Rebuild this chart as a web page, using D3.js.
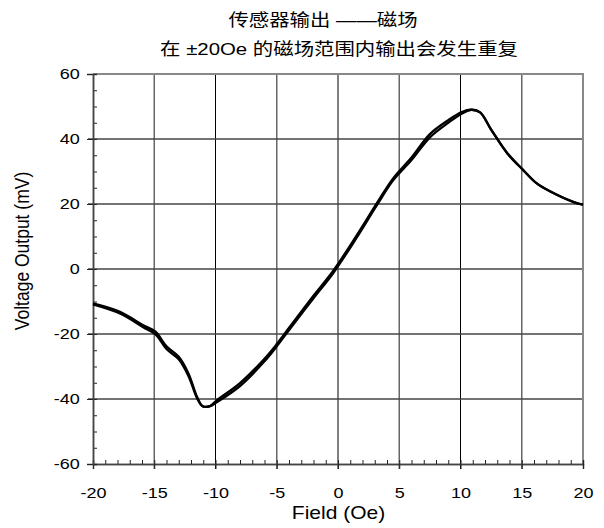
<!DOCTYPE html>
<html>
<head>
<meta charset="utf-8">
<script src="https://cdn.jsdelivr.net/npm/d3@7"></script>
<style>
  body { margin: 0; background: #fff; }
  svg text { font-family: "Liberation Sans", Arial, sans-serif; fill: #000; }
  .title { font-family: "Liberation Sans", "Noto Sans CJK SC", sans-serif; font-size: 17px; }
</style>
</head>
<body>
<svg width="604" height="528"></svg>
<script>
// sweep from -20 Oe up to +20 Oe
var fieldUp = [-20, -17.8, -15.9, -14.9, -14, -13, -12.2, -11.5, -11.05, -10.45, -9.9, -8, -6, -5, -3.9, -2, -0.4, 1.5, 3.2, 4.5, 6, 7.5, 9, 10.1, 10.9, 11.6, 12.5, 13.8, 15.1, 16.2, 17.3, 19.3, 20];
var voltUp  = [-10.6, -13.2, -17.3, -19.3, -23.8, -27, -32.2, -39.4, -42.2, -42.2, -41, -36, -28.4, -23.8, -18.3, -9, -1.3, 9.5, 19.8, 27.3, 33.5, 40.5, 45, 47.8, 49, 48.2, 42.9, 35.7, 30.5, 26.4, 23.9, 20.5, 19.8];
// sweep back from +20 Oe down to -20 Oe
var fieldDown = [20, 19.3, 17.3, 16.2, 15.1, 13.8, 12.5, 11.6, 10.9, 10.1, 9, 7.5, 6, 4.5, 3.2, 1.5, -0.4, -2, -3.9, -5, -6, -8, -9.9, -10.45, -11.05, -11.5, -12.2, -13, -14, -14.9, -15.9, -17.8, -20];
var voltDown  = [19.8, 20.5, 23.9, 26.4, 30.5, 35.7, 42.9, 48.2, 49, 48.3, 45.8, 41.5, 34.3, 27.9, 20.4, 10.2, -0.6, -8.2, -17.6, -23.1, -27.6, -35.1, -40.4, -42.2, -42.2, -39.8, -33, -27.8, -24.6, -20.1, -17.9, -13.7, -10.9];

var xTicks = [-20, -15, -10, -5, 0, 5, 10, 15, 20];
var yTicks = [-60, -40, -20, 0, 20, 40, 60];

var titleLines = ["传感器输出 ——磁场", "在 ±20Oe 的磁场范围内输出会发生重复"];
var xLabel = "Field (Oe)";
var yLabel = "Voltage Output (mV)";

var svg = d3.select("svg");
var pLeft = 93, pRight = 583, pTop = 74, pBottom = 464;
var stretch = "scale(1.2,1)"; // the original text is a bit wide

var x = d3.scaleLinear().domain([-20, 20]).range([pLeft, pRight]);
var y = d3.scaleLinear().domain([-60, 60]).range([pBottom, pTop]);
var fmt = d => String(d);

// grid
svg.append("g").selectAll("line").data(xTicks.slice(1, -1)).join("line")
  .attr("x1", d => x(d)).attr("x2", d => x(d))
  .attr("y1", pTop).attr("y2", pBottom + 5)
  .attr("stroke", d => (d % 10 === 0) ? "#000" : "#666")
  .attr("stroke-width", d => (d % 10 === 0) ? 1 : 1.5);

svg.append("g").selectAll("line").data(yTicks.slice(1, -1)).join("line")
  .attr("x1", pLeft - 5).attr("x2", pRight)
  .attr("y1", d => y(d)).attr("y2", d => y(d))
  .attr("stroke", "#444").attr("stroke-width", 1.3);

// frame top & right
svg.append("path")
  .attr("d", "M" + pLeft + "," + pTop + "H" + pRight + "V" + pBottom)
  .attr("fill", "none").attr("stroke", "#888").attr("stroke-width", 2);

// bottom axis
var xAxis = svg.append("g").attr("transform", "translate(0," + pBottom + ")");
xAxis.append("g").call(d3.axisBottom(x).tickValues(d3.range(-20, 21, 1)).tickSize(-4).tickFormat(""));
xAxis.append("g").call(d3.axisBottom(x).tickValues(xTicks).tickSize(5).tickPadding(18).tickFormat(fmt));
xAxis.selectAll(".domain").attr("stroke", "#444").attr("stroke-width", 1.5);
xAxis.selectAll("line").attr("stroke", "#222");
xAxis.selectAll("text").style("font-size", "15px").attr("transform", stretch);

// left axis
var yAxis = svg.append("g").attr("transform", "translate(" + pLeft + ",0)");
yAxis.append("g").call(d3.axisLeft(y).tickValues(d3.range(-60, 61, 5)).tickSize(-4).tickFormat(""));
yAxis.append("g").call(d3.axisLeft(y).tickValues(yTicks).tickSize(6).tickFormat(fmt));
yAxis.selectAll(".domain").attr("stroke", "#444").attr("stroke-width", 1.5);
yAxis.selectAll("line").attr("stroke", "#222");
yAxis.selectAll("text").style("font-size", "15px").attr("x", -11).attr("transform", stretch);

// curves
var line = d3.line().x(d => x(d[0])).y(d => y(d[1])).curve(d3.curveCatmullRom);
svg.append("path").datum(d3.zip(fieldUp, voltUp))
  .attr("d", line).attr("fill", "none").attr("stroke", "#000").attr("stroke-width", 2.3);
svg.append("path").datum(d3.zip(fieldDown, voltDown))
  .attr("d", line).attr("fill", "none").attr("stroke", "#000").attr("stroke-width", 2.3);

// titles
var titlePos = [[323, 25.5], [339, 55]];
svg.selectAll(".title").data(titleLines).join("text")
  .attr("class", "title")
  .attr("transform", (d, i) => "translate(" + titlePos[i] + ") " + stretch)
  .attr("text-anchor", "middle")
  .text(d => d);

svg.append("text").attr("transform", "translate(338.5,519) " + stretch)
  .attr("text-anchor", "middle").style("font-size", "17.5px").text(xLabel);

svg.append("text").attr("transform", "translate(29,251) " + stretch + " rotate(-90)")
  .attr("text-anchor", "middle").style("font-size", "17.5px").text(yLabel);
</script>
</body>
</html>
